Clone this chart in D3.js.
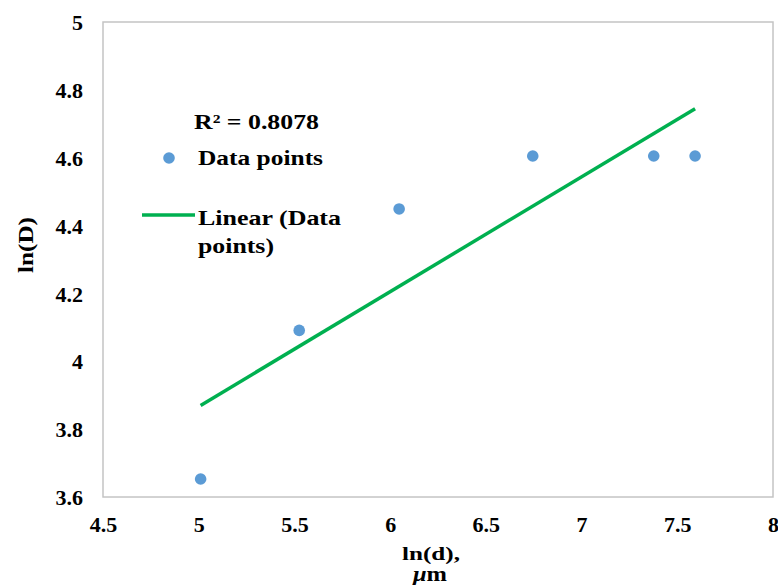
<!DOCTYPE html>
<html>
<head>
<meta charset="utf-8">
<script src="https://cdn.jsdelivr.net/npm/d3@7"></script>
<style>
  html, body { margin: 0; padding: 0; background: #ffffff; }
  svg { display: block; }
  text { font-family: "Liberation Serif", "Times New Roman", serif; font-weight: bold; fill: #000; }
</style>
</head>
<body>
<svg id="chart" width="778" height="585"></svg>
<script>
// ln(d) and ln(D) measurements
const lnd = [5.01, 5.525, 6.047, 6.745, 7.377, 7.593];
const lnD = [3.653, 4.091, 4.449, 4.605, 4.605, 4.605];

const xTicks = [4.5, 5, 5.5, 6, 6.5, 7, 7.5, 8];
const yTicks = [3.6, 3.8, 4, 4.2, 4.4, 4.6, 4.8, 5];
const xTickLabels = ["4.5", "5", "5.5", "6", "6.5", "7", "7.5", "8"];
const yTickLabels = ["3.6", "3.8", "4", "4.2", "4.4", "4.6", "4.8", "5"];

const r2Label = "R² = 0.8078";
const legendLabels = ["Data points", "Linear (Data", "points)"];

const W = 778, H = 585;
const plot = { left: 103, right: 773, top: 22, bottom: 497 };

const svg = d3.select("#chart");

const x = d3.scaleLinear().domain([4.5, 8]).range([plot.left, plot.right]);
const y = d3.scaleLinear().domain([3.6, 5]).range([plot.bottom, plot.top]);

// least-squares fit through the points
const mx = d3.mean(lnd), my = d3.mean(lnD);
let sxy = 0, sxx = 0;
lnd.forEach((v, i) => { sxy += (v - mx) * (lnD[i] - my); sxx += (v - mx) * (v - mx); });
const slope = sxy / sxx, intercept = my - slope * mx;
const xMin = d3.min(lnd), xMax = d3.max(lnd);
const fit = [[xMin, intercept + slope * xMin], [xMax, intercept + slope * xMax]];

// plot frame
svg.append("rect")
  .attr("x", plot.left).attr("y", plot.top)
  .attr("width", plot.right - plot.left).attr("height", plot.bottom - plot.top)
  .attr("fill", "none").attr("stroke", "#c4c4c4").attr("stroke-width", 1.5);

// axes (labels only)
const tickFont = g => g.selectAll("text")
  .attr("font-family", "Liberation Serif").attr("font-weight", "bold").attr("font-size", 22)
  .style("font-family", "Liberation Serif").style("font-weight", "bold").style("font-size", "22px");

const xAxis = svg.append("g")
  .attr("transform", `translate(0,${plot.bottom})`)
  .call(d3.axisBottom(x).tickValues(xTicks).tickSize(0).tickPadding(0)
    .tickFormat((d, i) => xTickLabels[i]));
xAxis.select(".domain").remove();
xAxis.selectAll("text").attr("y", 35).attr("dy", null);
tickFont(xAxis);

const yAxis = svg.append("g")
  .attr("transform", `translate(${plot.left},0)`)
  .call(d3.axisLeft(y).tickValues(yTicks).tickSize(0).tickPadding(20)
    .tickFormat((d, i) => yTickLabels[i]));
yAxis.select(".domain").remove();
yAxis.selectAll("text").attr("dy", "0.35em");
tickFont(yAxis);

// trend line
svg.append("line")
  .attr("x1", x(fit[0][0])).attr("y1", y(fit[0][1]))
  .attr("x2", x(fit[1][0])).attr("y2", y(fit[1][1]))
  .attr("stroke", "#00b050").attr("stroke-width", 3.5);

// data points
svg.append("g").selectAll("circle")
  .data(lnd.map((v, i) => [v, lnD[i]]))
  .join("circle")
  .attr("cx", d => x(d[0])).attr("cy", d => y(d[1]))
  .attr("r", 5.8).attr("fill", "#5b9bd5");

// legend
svg.append("text").attr("x", 194).attr("y", 129)
  .attr("textLength", 125).attr("lengthAdjust", "spacingAndGlyphs")
  .style("font-size", "21px").text(r2Label);
svg.append("circle").attr("cx", 169).attr("cy", 158).attr("r", 5.8).attr("fill", "#5b9bd5");
svg.append("text").attr("x", 198).attr("y", 165)
  .attr("textLength", 125).attr("lengthAdjust", "spacingAndGlyphs")
  .style("font-size", "21px").text(legendLabels[0]);
svg.append("line").attr("x1", 142).attr("x2", 195).attr("y1", 215).attr("y2", 215)
  .attr("stroke", "#00b050").attr("stroke-width", 3.5);
svg.append("text").attr("x", 198).attr("y", 225)
  .attr("textLength", 143).attr("lengthAdjust", "spacingAndGlyphs")
  .style("font-size", "21px").text(legendLabels[1]);
svg.append("text").attr("x", 198).attr("y", 253)
  .attr("textLength", 76).attr("lengthAdjust", "spacingAndGlyphs")
  .style("font-size", "21px").text(legendLabels[2]);

// axis titles
svg.append("text")
  .attr("transform", "translate(33,245) rotate(-90)")
  .attr("text-anchor", "middle")
  .attr("textLength", 56).attr("lengthAdjust", "spacingAndGlyphs")
  .style("font-size", "21px").text("ln(D)");

svg.append("text").attr("x", 431).attr("y", 560)
  .attr("text-anchor", "middle")
  .attr("textLength", 58).attr("lengthAdjust", "spacingAndGlyphs")
  .style("font-size", "19px").text("ln(d),");
svg.append("text").attr("x", 430).attr("y", 581)
  .attr("text-anchor", "middle")
  .attr("textLength", 34).attr("lengthAdjust", "spacingAndGlyphs")
  .style("font-size", "20px")
  .html('<tspan font-style="italic">μ</tspan>m');
</script>
</body>
</html>
